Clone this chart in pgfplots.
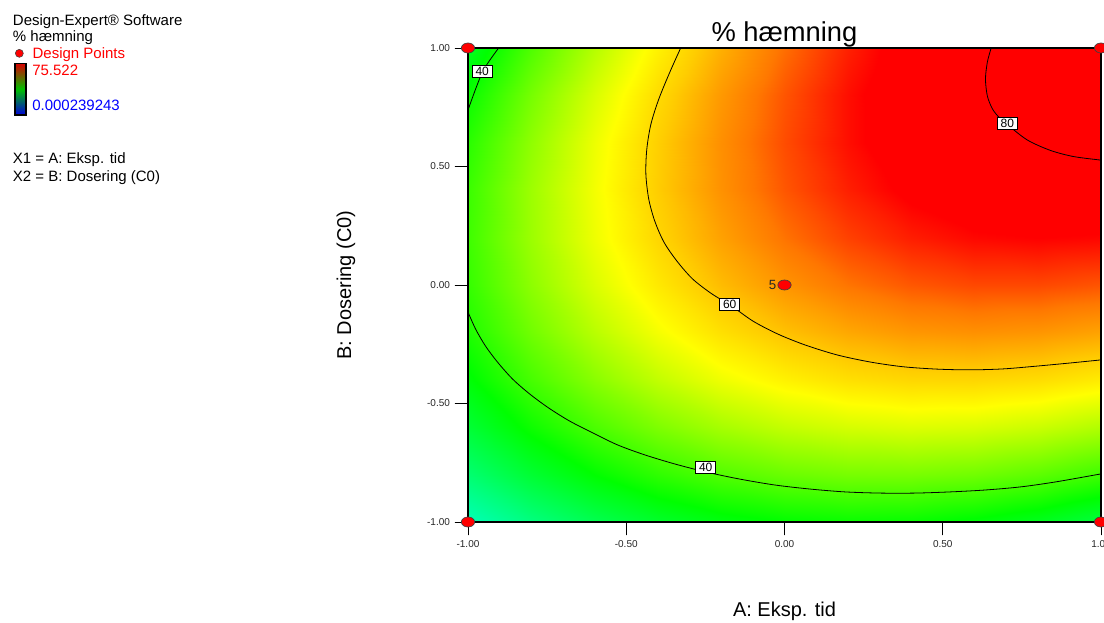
\documentclass[border=0pt]{standalone}
\usepackage{pgfplots}
\pgfplotsset{compat=1.18}
\usepackage{fontspec}
\setmainfont{Liberation Sans}
\pgfplotsset{colormap={de}{rgb255(0pt)=(0,0,255) rgb255(15pt)=(0,255,255) rgb255(36pt)=(0,255,0) rgb255(55pt)=(255,255,0) rgb255(60pt)=(255,205,0) rgb255(67pt)=(255,120,0) rgb255(74pt)=(255,0,0) rgb255(82pt)=(255,0,0)}}
\tikzset{clabel/.style={draw=black, line width=0.5pt, fill=white, inner xsep=2.5pt, inner ysep=0.5pt, minimum height=9pt, font=\fontsize{9}{9}\selectfont}}
\begin{document}
\begin{tikzpicture}
\begin{axis}[
  at={(351pt,75pt)}, anchor=south west,
  scale only axis, width=474.75pt, height=355.5pt,
  view={0}{90},
  xmin=-1, xmax=1, ymin=-1, ymax=1, zmin=0, zmax=100,
  colormap name=de, point meta min=0, point meta max=82,
  xtick={-1,-0.5,0,0.5,1}, xticklabels={-1.00,-0.50,0.00,0.50,1.00},
  ytick={-1,-0.5,0,0.5,1}, yticklabels={-1.00,-0.50,0.00,0.50,1.00},
  ztick=\empty,
  xtick pos=left, ytick pos=left,
  tick align=outside, major tick length=10pt,
  tick style={black, line width=0.6pt},
  ticklabel style={font=\fontsize{7.5}{8}\selectfont, text=black!85},
  axis on top,
  axis line style={black, line width=0.8pt},
  title={\% hæmning},
  title style={font=\fontsize{20.5}{22}\selectfont, at={(axis description cs:0.5,1)}, anchor=base, yshift=-1.5pt},
  xlabel={A: Eksp. tid}, ylabel={B: Dosering (C0)},
  xlabel style={font=\fontsize{15}{16}\selectfont, at={(axis description cs:0.5,-0.188)}, anchor=center},
  ylabel style={font=\fontsize{15}{16}\selectfont, at={(axis description cs:-0.193,0.5)}, anchor=center},
]
\addplot3[surf, shader=interp, mesh/cols=11] table {
x y z
-1 -1 20.9
-0.8 -1 25.5
-0.6 -1 29.4
-0.4 -1 32.4
-0.2 -1 34.6
0 -1 36.0
0.2 -1 36.6
0.4 -1 36.4
0.6 -1 35.3
0.8 -1 33.5
1 -1 30.8
-1 -0.8 26.7
-0.8 -0.8 31.8
-0.6 -0.8 36.0
-0.4 -0.8 39.4
-0.2 -0.8 42.0
0 -0.8 43.8
0.2 -0.8 44.8
0.4 -0.8 44.9
0.6 -0.8 44.3
0.8 -0.8 42.8
1 -0.8 40.5
-1 -0.6 31.6
-0.8 -0.6 37.0
-0.6 -0.6 41.6
-0.4 -0.6 45.4
-0.2 -0.6 48.4
0 -0.6 50.6
0.2 -0.6 51.9
0.4 -0.6 52.5
0.6 -0.6 52.2
0.8 -0.6 51.1
1 -0.6 49.2
-1 -0.4 35.4
-0.8 -0.4 41.2
-0.6 -0.4 46.2
-0.4 -0.4 50.4
-0.2 -0.4 53.8
0 -0.4 56.3
0.2 -0.4 58.1
0.4 -0.4 59.0
0.6 -0.4 59.1
0.8 -0.4 58.4
1 -0.4 56.9
-1 -0.2 38.2
-0.8 -0.2 44.4
-0.6 -0.2 49.8
-0.4 -0.2 54.3
-0.2 -0.2 58.1
0 -0.2 61.0
0.2 -0.2 63.1
0.4 -0.2 64.5
0.6 -0.2 65.0
0.8 -0.2 64.6
1 -0.2 63.5
-1 0 39.9
-0.8 0 46.5
-0.6 0 52.3
-0.4 0 57.2
-0.2 0 61.4
0 0 64.7
0.2 0 67.2
0.4 0 68.9
0.6 0 69.8
0.8 0 69.8
1 0 69.1
-1 0.2 40.6
-0.8 0.2 47.6
-0.6 0.2 53.8
-0.4 0.2 59.1
-0.2 0.2 63.6
0 0.2 67.3
0.2 0.2 70.2
0.4 0.2 72.3
0.6 0.2 73.6
0.8 0.2 74.0
1 0.2 73.7
-1 0.4 40.3
-0.8 0.4 47.7
-0.6 0.4 54.2
-0.4 0.4 60.0
-0.2 0.4 64.9
0 0.4 69.0
0.2 0.4 72.2
0.4 0.4 74.7
0.6 0.4 76.4
0.8 0.4 77.2
1 0.4 77.2
-1 0.6 39.0
-0.8 0.6 46.7
-0.6 0.6 53.7
-0.4 0.6 59.8
-0.2 0.6 65.1
0 0.6 69.6
0.2 0.6 73.2
0.4 0.6 76.1
0.6 0.6 78.1
0.8 0.6 79.3
1 0.6 79.7
-1 0.8 36.6
-0.8 0.8 44.8
-0.6 0.8 52.1
-0.4 0.8 58.6
-0.2 0.8 64.3
0 0.8 69.1
0.2 0.8 73.2
0.4 0.8 76.4
0.6 0.8 78.8
0.8 0.8 80.4
1 0.8 81.2
-1 1 33.2
-0.8 1 41.8
-0.6 1 49.5
-0.4 1 56.3
-0.2 1 62.4
0 1 67.6
0.2 1 72.1
0.4 1 75.7
0.6 1 78.5
0.8 1 80.5
1 1 81.7
};
\end{axis}
\begin{axis}[
  at={(351pt,75pt)}, anchor=south west,
  scale only axis, width=474.75pt, height=355.5pt,
  xmin=-1, xmax=1, ymin=-1, ymax=1, hide axis,
]
% contour 80
\addplot[black, line width=0.6pt, smooth] coordinates {
(0.653,1.0) (0.641,0.941) (0.635,0.869) (0.641,0.797) (0.657,0.743) (0.678,0.707) (0.704,0.677) (0.767,0.612) (0.840,0.568) (0.913,0.542) (1.0,0.527)};
% contour 60
\addplot[black, line width=0.6pt, smooth] coordinates {
(-0.328,1.000) (-0.362,0.899) (-0.397,0.785) (-0.422,0.679) (-0.435,0.574) (-0.438,0.468) (-0.429,0.363) (-0.410,0.270) (-0.381,0.181) (-0.340,0.101) (-0.290,0.025) (-0.229,-0.038) (-0.172,-0.084) (-0.100,-0.152) (-0.021,-0.207) (0.065,-0.253) (0.166,-0.295) (0.271,-0.325) (0.375,-0.345) (0.483,-0.355) (0.587,-0.358) (0.691,-0.354) (0.799,-0.342) (0.903,-0.329) (1.0,-0.316)};
% contour 40 lower
\addplot[black, line width=0.6pt, smooth] coordinates {
(-1.0,-0.114) (-0.976,-0.186) (-0.945,-0.257) (-0.907,-0.325) (-0.859,-0.397) (-0.805,-0.460) (-0.745,-0.519) (-0.679,-0.574) (-0.606,-0.624) (-0.527,-0.675) (-0.441,-0.717) (-0.347,-0.755) (-0.248,-0.789) (-0.141,-0.819) (-0.030,-0.844) (0.081,-0.861) (0.191,-0.873) (0.302,-0.878) (0.413,-0.878) (0.524,-0.873) (0.634,-0.865) (0.745,-0.852) (0.856,-0.831) (1.0,-0.797)};
% contour 40 upper left
\addplot[black, line width=0.6pt, smooth] coordinates {
(-0.903,1.0) (-0.954,0.899) (-1.0,0.738)};
\node[clabel] at (axis cs:-0.955,0.902) {40};
\node[clabel] at (axis cs:0.704,0.684) {80};
\node[clabel] at (axis cs:-0.173,-0.081) {60};
\node[clabel] at (axis cs:-0.249,-0.768) {40};
% design points
\addplot[only marks, mark=*, mark size=3.75pt, mark options={fill=red, draw=black!75, line width=0.5pt, xscale=1.33}] coordinates {(-1,-1) (-1,1) (1,-1) (1,1) (0,0)};
\node[font=\fontsize{10}{10}\selectfont, text=black!85] at (axis cs:0,0) [xshift=-9pt] {5};
\end{axis}
% header legend
\node[anchor=base west, font=\fontsize{11.25}{12}\selectfont, inner sep=0pt] at (9.5pt,447pt) {Design-Expert® Software};
\node[anchor=base west, font=\fontsize{11.25}{12}\selectfont, inner sep=0pt] at (9.5pt,435pt) {\% hæmning};
\filldraw[fill=red, draw=black!75, line width=0.4pt] (14.5pt,426.5pt) circle (3pt);
\node[anchor=base west, font=\fontsize{11.25}{12}\selectfont, inner sep=0pt, text=red] at (24.25pt,422.8pt) {Design Points};
\shade[top color=red!85!black, bottom color=blue!85!black, middle color=green!75!black] (11.25pt,380.25pt) rectangle (19.5pt,419pt);
\draw[black, line width=0.8pt] (11.25pt,380.25pt) rectangle (19.5pt,419pt);
\node[anchor=base west, font=\fontsize{11.25}{12}\selectfont, inner sep=0pt, text=red] at (24pt,409.5pt) {75.522};
\node[anchor=base west, font=\fontsize{11.25}{12}\selectfont, inner sep=0pt, text=blue] at (24pt,383.25pt) {0.000239243};
\node[anchor=base west, font=\fontsize{11.25}{12}\selectfont, inner sep=0pt] at (9.5pt,343.5pt) {X1 = A: Eksp. tid};
\node[anchor=base west, font=\fontsize{11.25}{12}\selectfont, inner sep=0pt] at (9.5pt,330.3pt) {X2 = B: Dosering (C0)};
\pgfresetboundingbox
\useasboundingbox (0,0) rectangle (828pt,466.5pt);
\end{tikzpicture}
\end{document}
